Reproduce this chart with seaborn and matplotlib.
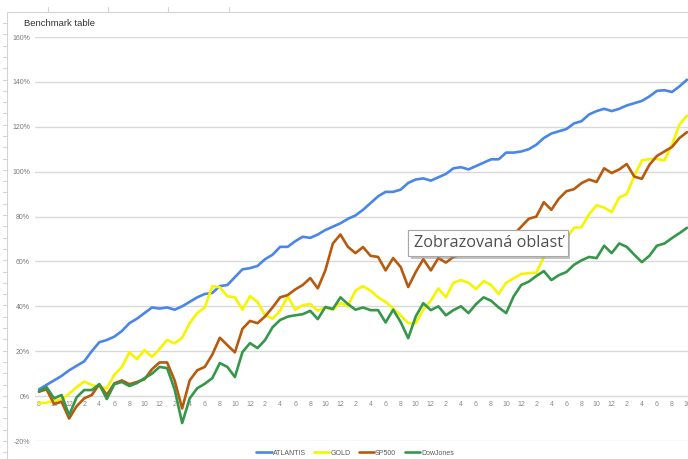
import numpy as np
import pandas as pd
import matplotlib
matplotlib.use("Agg")
import matplotlib.pyplot as plt
import matplotlib.patheffects as pe
from matplotlib.lines import Line2D
import seaborn as sns

# monthly cumulative returns in %, first point is August
atlantis = [3, 5, 7, 9, 11.5, 13.5, 15.5, 20, 24, 25, 26.5, 29, 32.5, 34.5, 37, 39.5, 39, 39.5, 38.5, 40,
            42, 44, 45.5, 46, 49, 49.5, 53, 56.5, 57, 58, 61, 63, 66.5, 66.5, 69, 71, 70.5, 72, 74, 75.5,
            77, 79, 80.5, 83, 86, 89, 91, 91, 92, 95, 96.5, 97, 96, 97.5, 99, 101.5, 102, 101, 102.5, 104,
            105.5, 105.5, 108.5, 108.5, 109, 110, 112, 115, 117, 118, 119, 121.5, 122.5, 125.5, 127, 128, 127, 128, 129.5, 130.5,
            131.5, 133.5, 136, 136.3, 135.5, 138, 141]
gold = [-3, -3, -2, -1.5, 1, 4, 6.5, 5, 4, 3.5, 9.5, 13, 19.5, 16.5, 20.5, 17.5, 21, 25, 23.5, 26,
        32.5, 37, 39.5, 49, 48.5, 44.5, 44, 38.5, 44.5, 42, 36, 34.5, 38, 44.5, 38.5, 40.5, 41, 38, 39.5, 38.5,
        41.5, 40, 47, 49, 47, 44, 42, 39, 36, 32.5, 32.5, 38.5, 42.5, 48, 44, 50.5, 51.7, 50.5, 47.7, 51.2,
        49.5, 45.5, 50.5, 52.5, 54.4, 54.8, 55, 62, 64, 67, 70.5, 75, 75.3, 81, 85, 84, 82, 88.5, 90, 98,
        105, 105.6, 105.6, 105, 112, 121, 125]
sp500 = [2, 3, -3.5, -2.5, -10, -4.5, -1, 0.5, 5.3, 0.5, 5.7, 7, 5.3, 6.3, 7.5, 12, 15, 15, 7, -5.5,
         7, 11.5, 13, 18.5, 26, 22.7, 19.5, 30, 33.5, 32.5, 35.5, 39.5, 44, 45, 47.5, 49.5, 52.6, 48, 56, 68,
         72, 66.5, 63.7, 66.4, 62.5, 62, 56, 61.5, 57.5, 48.6, 55.3, 61, 56, 61.5, 59.5, 62, 63, 64, 66, 65,
         68, 70, 71, 72, 75.5, 79, 80, 86.4, 83, 88, 91.3, 92.2, 94.9, 96.5, 95.4, 101.5, 99.4, 101, 103.4, 97.8,
         96.8, 103, 107, 109, 111, 115, 117.6]
dowjones = [2, 4, -1, 0.5, -8.5, -0.5, 2.7, 2.7, 5.3, -1.3, 5.3, 6.3, 4.5, 5.8, 8, 10, 13, 12.5, 3, -12,
            -1, 3.5, 5.5, 8, 14.7, 13, 8.5, 19.6, 23.6, 21.4, 25, 30.7, 33.9, 35.4, 36, 36.5, 38, 34.3, 39.7, 38.8,
            44, 41, 38.5, 39.5, 38.3, 38.3, 32.8, 38.5, 33, 25.8, 35.5, 41.4, 38.3, 40, 36, 38.3, 40, 37, 41, 44,
            42.5, 39.5, 37, 44.5, 49.5, 51, 53.5, 55.7, 51.7, 53.9, 55.3, 58.5, 60.5, 62, 61.5, 67, 63.7, 68, 66.5, 63,
            59.7, 62.5, 67, 68, 70.4, 72.6, 75]

series_names = ["ATLANTIS", "GOLD", "SP500", "DowJones"]
series_colors = ["#4a86e8", "#f5f500", "#b85a0d", "#36964a"]

# every second month is labelled on the axis
month_labels = ["8", "10", "12",
                "2", "4", "6", "8", "10", "12",
                "2", "4", "6", "8", "10", "12",
                "2", "4", "6", "8", "10", "12",
                "2", "4", "6", "8", "10", "12",
                "2", "4", "6", "8", "10", "12",
                "2", "4", "6", "8", "10", "12",
                "2", "4", "6", "8", "10"]
y_ticks = [-20, 0, 20, 40, 60, 80, 100, 120, 140, 160]

df = pd.DataFrame({"ATLANTIS": atlantis, "GOLD": gold, "SP500": sp500, "DowJones": dowjones})
df["month"] = np.arange(len(df))
long_df = df.melt(id_vars="month", var_name="series", value_name="value")

sns.set_theme(style="white")
plt.rcParams["font.family"] = ["Liberation Sans", "DejaVu Sans"]

fig = plt.figure(figsize=(6.88, 4.59), dpi=100)
ax = fig.add_axes([35 / 688, 1 - 441 / 459, 653 / 688, 404 / 459])

sns.lineplot(data=long_df, x="month", y="value", hue="series", hue_order=series_names,
             palette=series_colors, linewidth=1.9, ax=ax, legend=False, zorder=3)

ax.set_xlim(-0.53, 86.13)
ax.set_ylim(-20, 160)
ax.set_xticks(np.arange(0, len(df), 2))
ax.set_xticklabels(month_labels)
ax.set_yticks(y_ticks)
ax.set_yticklabels([f"{v}%" for v in y_ticks])
ax.set_xlabel("")
ax.set_ylabel("")

ax.set_axisbelow(True)
ax.yaxis.grid(True, color="#d9d9d9", linewidth=1.0)
ax.xaxis.grid(False)
for side in ["top", "right", "left"]:
    ax.spines[side].set_visible(False)
# x labels sit on the 0% line like in Sheets
ax.spines["bottom"].set_position(("data", 0))
ax.spines["bottom"].set_color("none")
ax.tick_params(axis="x", length=0, pad=3.5, labelsize=5, labelcolor="#8a8a8a")
ax.tick_params(axis="y", length=0, pad=3.6, labelsize=5, labelcolor="#7a7a7a")
ax.patch.set_alpha(0)

# legend at the bottom
handles = [Line2D([0], [0], color=c, lw=1.9) for c in series_colors]
fig.legend(handles, series_names, loc="center", bbox_to_anchor=(0.516, 0.013), ncol=4,
           frameon=False, fontsize=5, handlelength=2.2, handletextpad=0.15,
           columnspacing=1.2, labelcolor="#5a5a5a")

fig.text(24 / 688, 1 - 23 / 459, "Benchmark table", fontsize=6.8, color="#333333", va="center")

# spreadsheet border lines
border = "#d4d4d4"
fig.add_artist(Line2D([7 / 688, 1], [1 - 12 / 459, 1 - 12 / 459], color=border, lw=0.8))
fig.add_artist(Line2D([7 / 688, 7 / 688], [0, 1 - 12 / 459], color=border, lw=0.8))
for px in [48, 108, 168, 229]:
    fig.add_artist(Line2D([px / 688, px / 688], [1 - 12 / 459, 1 - 7 / 459], color=border, lw=0.8))
for py in np.arange(23, 459, 11.3):
    fig.add_artist(Line2D([3 / 688, 7 / 688], [1 - py / 459, 1 - py / 459], color=border, lw=0.8))

# hover tooltip
tip = fig.text(488 / 688, 1 - 243 / 459, "Zobrazovaná oblasť", fontsize=11.7, color="#505050",
               family=["Open Sans", "DejaVu Sans"], ha="center", va="center", zorder=10,
               bbox=dict(boxstyle="square,pad=0.32", facecolor="white", edgecolor="#a8a8a8", linewidth=0.8))
tip.get_bbox_patch().set_path_effects([
    pe.withSimplePatchShadow(offset=(2, -2), shadow_rgbFace="#888888", alpha=0.5),
    pe.Normal(),
])

fig.savefig("out.png", dpi=100)
